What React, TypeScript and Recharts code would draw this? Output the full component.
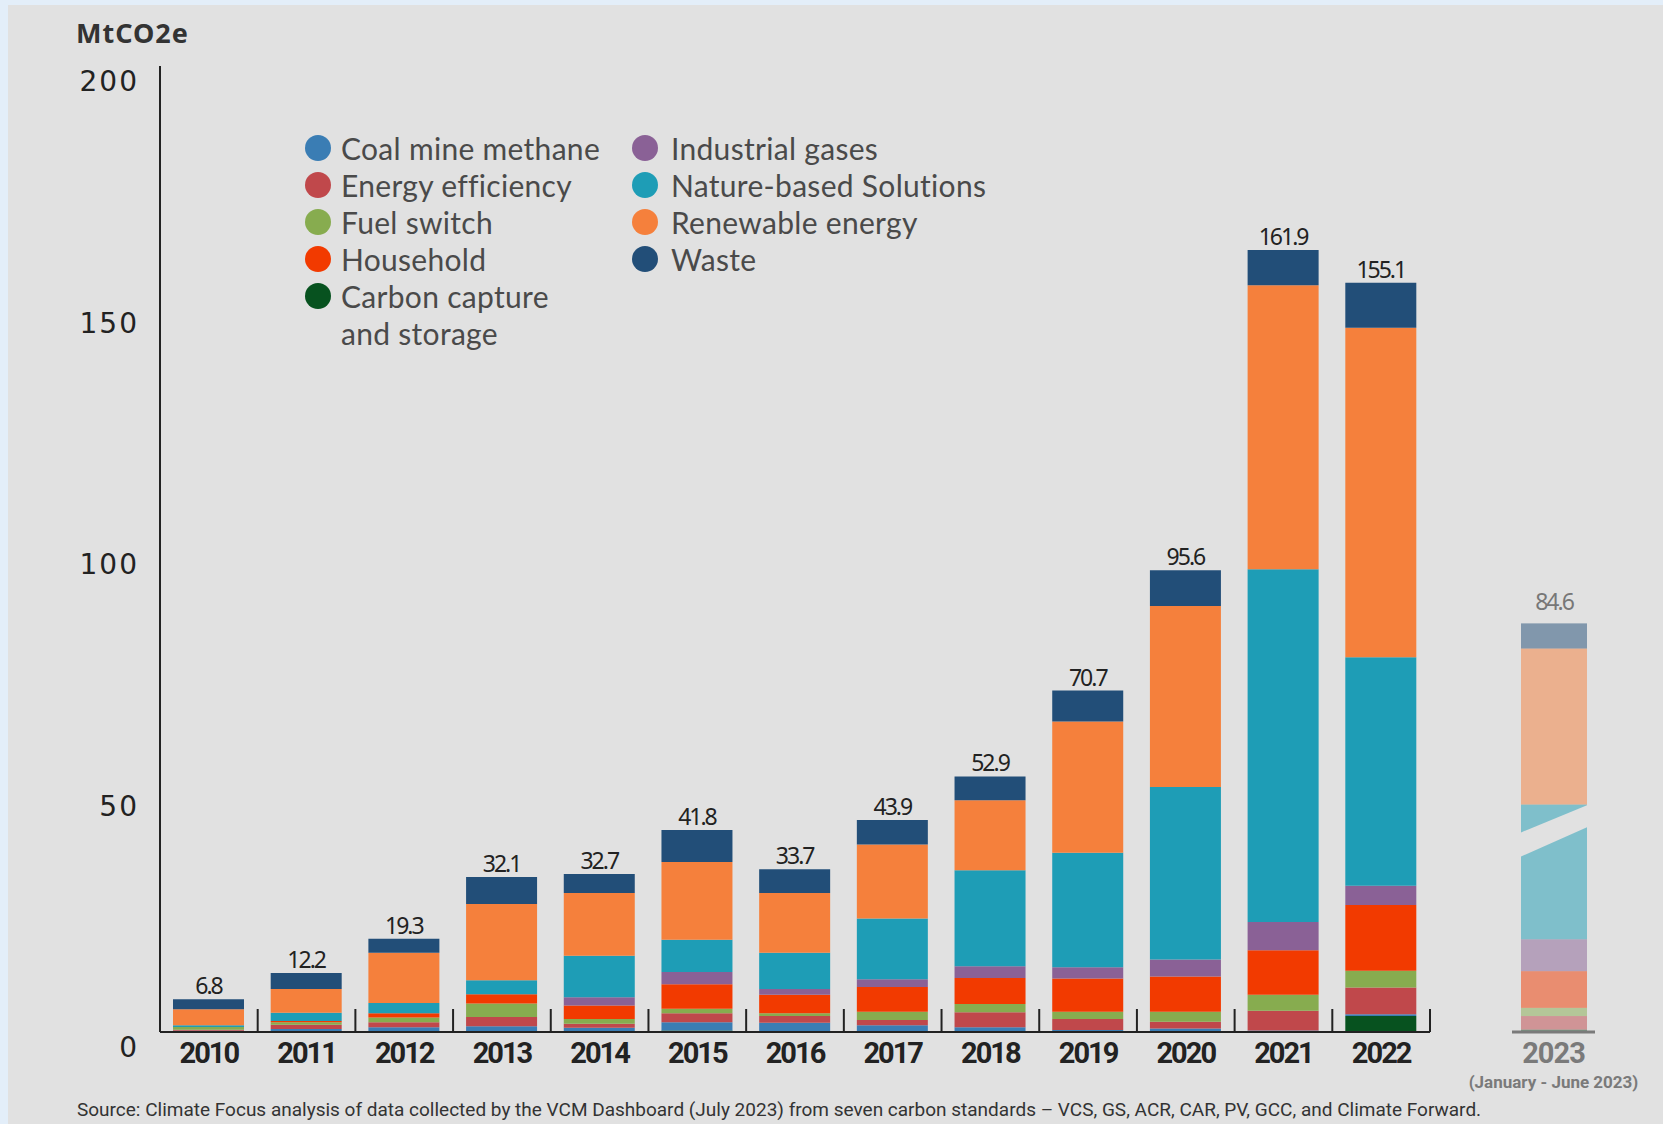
import React from "react";
import { BarChart, Bar, XAxis, YAxis, LabelList } from "recharts";

// yearly issuances, MtCO2e
const years = ["2010", "2011", "2012", "2013", "2014", "2015", "2016", "2017", "2018", "2019", "2020", "2021", "2022"];
const totals = [6.8, 12.2, 19.3, 32.1, 32.7, 41.8, 33.7, 43.9, 52.9, 70.7, 95.6, 161.9, 155.1];

const carbonCapture = [0, 0, 0, 0, 0, 0.3, 0, 0, 0, 0, 0, 0, 3.3];
const coalMineMethane = [0.25, 0.6, 1.0, 1.2, 0.9, 1.7, 1.9, 1.4, 1.0, 0.4, 0.7, 0.3, 0.4];
const energyEfficiency = [0.2, 0.9, 1.0, 1.9, 0.8, 1.9, 1.4, 1.1, 3.1, 2.3, 1.4, 4.1, 5.5];
const fuelSwitch = [0.6, 0.5, 1.0, 2.8, 1.0, 0.9, 0.6, 1.7, 1.7, 1.5, 2.1, 3.3, 3.5];
const household = [0, 0.3, 0.9, 1.9, 2.8, 5.1, 3.8, 5.1, 5.4, 6.9, 7.3, 9.2, 13.6];
const industrialGases = [0, 0, 0, 0, 1.7, 2.5, 1.2, 1.6, 2.4, 2.3, 3.5, 5.9, 4.0];
const natureBased = [0.35, 1.7, 2.1, 2.9, 8.6, 6.7, 7.5, 12.6, 19.9, 23.7, 35.7, 73.0, 47.3];
const renewable = [3.3, 4.9, 10.4, 15.8, 13.0, 16.1, 12.4, 15.3, 14.5, 27.2, 37.5, 58.8, 68.2];
const waste = [2.1, 3.3, 2.9, 5.6, 3.9, 6.6, 4.9, 5.1, 4.9, 6.4, 7.4, 7.3, 9.3];

// 2023 is only January - June
const partialYear = "2023";
const partialTotal = 84.6;
const partialValues = {
  carbonCapture: 0.5,
  coalMineMethane: 0,
  energyEfficiency: 2.8,
  fuelSwitch: 1.7,
  household: 7.6,
  industrialGases: 6.6,
  natureBased: 27.9,
  renewable: 32.3,
  waste: 5.2,
};

const yTicks = [0, 50, 100, 150, 200];
const rightTicks = [50, 100, 150, 200];

const SERIES = [
  { key: "carbonCapture", name: "Carbon capture and storage", color: "#07521f", values: carbonCapture },
  { key: "coalMineMethane", name: "Coal mine methane", color: "#3a7db4", values: coalMineMethane },
  { key: "energyEfficiency", name: "Energy efficiency", color: "#c0484b", values: energyEfficiency },
  { key: "fuelSwitch", name: "Fuel switch", color: "#87ac4f", values: fuelSwitch },
  { key: "household", name: "Household", color: "#f23a00", values: household },
  { key: "industrialGases", name: "Industrial gases", color: "#8a6196", values: industrialGases },
  { key: "natureBased", name: "Nature-based Solutions", color: "#1e9db6", values: natureBased },
  { key: "renewable", name: "Renewable energy", color: "#f5803c", values: renewable },
  { key: "waste", name: "Waste", color: "#224e78", values: waste },
];

const legendCol1 = ["coalMineMethane", "energyEfficiency", "fuelSwitch", "household", "carbonCapture"];
const legendCol2 = ["industrialGases", "natureBased", "renewable", "waste"];

const data = years.map((year, i) => {
  const row: Record<string, any> = { year, total: totals[i] };
  SERIES.forEach((s) => (row[s.key] = s.values[i]));
  return row;
});
const partialData = [{ year: partialYear, total: partialTotal, ...partialValues }];

const BG = "#e1e1e1";
const INK = "#222";
const PLOT_LEFT = 160;
const PLOT_RIGHT = 1430;
const BAND = (PLOT_RIGHT - PLOT_LEFT) / years.length;

const LeftTick = (p: any) => (
  <text x={p.x} y={p.y + 17} textAnchor="end" dominantBaseline="middle" fontFamily="DejaVu Sans" fontSize={28} letterSpacing={2} fill={INK}>
    {p.payload.value}
  </text>
);

const RightTick = (p: any) => {
  const len = p.payload.value === 200 ? 34 : 12;
  return <line x1={p.x - len - 1} x2={p.x - 2} y1={p.y} y2={p.y} stroke={INK} strokeWidth={2} />;
};

const YearTick = (p: any) => (
  <g>
    <line x1={p.x + BAND / 2} x2={p.x + BAND / 2} y1={p.y} y2={p.y - 23} stroke={INK} strokeWidth={2} />
    <text x={p.x} y={p.y + 31} textAnchor="middle" fontFamily="'Liberation Sans Narrow', Roboto" fontWeight={700} fontSize={29} letterSpacing={-2} fill={INK}>
      {p.payload.value}
    </text>
  </g>
);

const PartialTick = (p: any) => (
  <g>
    <text x={p.x} y={p.y + 31} textAnchor="middle" fontFamily="'Liberation Sans Narrow', Roboto" fontWeight={700} fontSize={29} letterSpacing={-1} fill="#7a7a7a">
      {p.payload.value}
    </text>
    <text x={p.x} y={p.y + 56} textAnchor="middle" fontFamily="'Liberation Sans Narrow', Roboto" fontWeight={700} fontSize={17} fill="#7a7a7a">
      (January - June 2023)
    </text>
  </g>
);

const totalLabel = (color: string, lift: number) => (p: any) => (
  <text x={p.x + p.width / 2} y={p.y - lift} textAnchor="middle" fontFamily="Noto Sans" fontSize={23} letterSpacing={-2} fill={color}>
    {p.value}
  </text>
);

// nature-based segment of 2023 is drawn with a break
const BrokenBar = (p: any) => {
  const { x, y, width, height, fill } = p;
  const pts = [
    [x, y + height * 0.207],
    [x + width, y + height * 0.005],
    [x + width, y + height * 0.169],
    [x, y + height * 0.386],
  ];
  return (
    <g>
      <rect x={x} y={y} width={width} height={height} fill={fill} fillOpacity={0.5} />
      <polygon points={pts.map((q) => q.join(",")).join(" ")} fill={BG} />
    </g>
  );
};

const FadedBar = (p: any) => <rect x={p.x} y={p.y} width={p.width} height={p.height} fill={p.fill} fillOpacity={0.5} />;

function LegendBlock() {
  const find = (k: string) => SERIES.find((s) => s.key === k)!;
  const item = (k: string, left: number, top: number, textOffset: number) => {
    const s = find(k);
    const lines = s.key === "carbonCapture" ? ["Carbon capture", "and storage"] : [s.name];
    return (
      <div key={k} style={{ position: "absolute", left, top }}>
        <div style={{ position: "absolute", left: 0, top: 5, width: 26, height: 26, borderRadius: 13, background: s.color }} />
        {lines.map((t, j) => (
          <div key={j} style={{ position: "absolute", left: textOffset, top: j * 37, whiteSpace: "nowrap", fontFamily: "Lato", fontSize: 30, letterSpacing: 0.3, lineHeight: "36px", color: "#4a4a4a" }}>
            {t}
          </div>
        ))}
      </div>
    );
  };
  return (
    <div>
      {legendCol1.map((k, i) => item(k, 305, 130 + i * 37, 36))}
      {legendCol2.map((k, i) => item(k, 632, 130 + i * 37, 39))}
    </div>
  );
}

export default function App() {
  return (
    <div style={{ position: "absolute", left: 0, top: 0, width: 1663, height: 1124, background: "#e3eef9", overflow: "hidden", fontFamily: "Noto Sans" }}>
      <div style={{ position: "absolute", left: 8, top: 5, right: 0, bottom: 0, background: BG }} />
      <div style={{ position: "absolute", left: 76, top: 14, fontFamily: "Noto Sans", fontWeight: 700, fontSize: 27, letterSpacing: 1, color: "#333" }}>
        MtCO2e
      </div>

      <div style={{ position: "absolute", left: 0, top: 0 }}>
        <BarChart width={1440} height={1124} data={data} margin={{ top: 66, right: 0, bottom: 0, left: 60 }} barSize={71}>
          <XAxis
            dataKey="year"
            height={92}
            tickSize={0}
            tickMargin={0}
            tickLine={false}
            axisLine={{ stroke: INK, strokeWidth: 2 }}
            tick={YearTick}
            interval={0}
          />
          <YAxis
            yAxisId="left"
            domain={[0, 200]}
            ticks={yTicks}
            width={100}
            tickSize={0}
            tickMargin={21}
            tickLine={false}
            axisLine={{ stroke: INK, strokeWidth: 2 }}
            tick={LeftTick}
          />
          <YAxis
            yAxisId="right"
            orientation="right"
            domain={[0, 200]}
            ticks={rightTicks}
            width={10}
            tickSize={0}
            tickMargin={0}
            tickLine={false}
            axisLine={false}
            tick={RightTick}
          />
          {SERIES.map((s, i) => (
            <Bar key={s.key} dataKey={s.key} name={s.name} stackId="a" yAxisId="left" fill={s.color} isAnimationActive={false}>
              {i === SERIES.length - 1 && <LabelList dataKey="total" content={totalLabel(INK, 5)} />}
            </Bar>
          ))}
        </BarChart>
      </div>

      <div style={{ position: "absolute", left: 1440, top: 0 }}>
        <BarChart width={223} height={1124} data={partialData} margin={{ top: 66, right: 68, bottom: 0, left: 72 }} barSize={66}>
          <XAxis
            dataKey="year"
            height={92}
            tickSize={0}
            tickMargin={0}
            tickLine={false}
            axisLine={{ stroke: "#7a7a7a", strokeWidth: 3 }}
            tick={PartialTick}
          />
          <YAxis hide domain={[0, 200]} />
          {SERIES.map((s, i) => (
            <Bar
              key={s.key}
              dataKey={s.key}
              stackId="a"
              fill={s.color}
              shape={s.key === "natureBased" ? BrokenBar : FadedBar}
              isAnimationActive={false}
            >
              {i === SERIES.length - 1 && <LabelList dataKey="total" content={totalLabel("#777", 13)} />}
            </Bar>
          ))}
        </BarChart>
      </div>

      <LegendBlock />

      <div style={{ position: "absolute", left: 77, top: 1098, whiteSpace: "nowrap", fontFamily: "'Liberation Sans Narrow', Roboto", fontSize: 19, color: "#333" }}>
        Source: Climate Focus analysis of data collected by the VCM Dashboard (July 2023) from seven carbon standards – VCS, GS, ACR, CAR, PV, GCC, and Climate Forward.
      </div>
    </div>
  );
}
